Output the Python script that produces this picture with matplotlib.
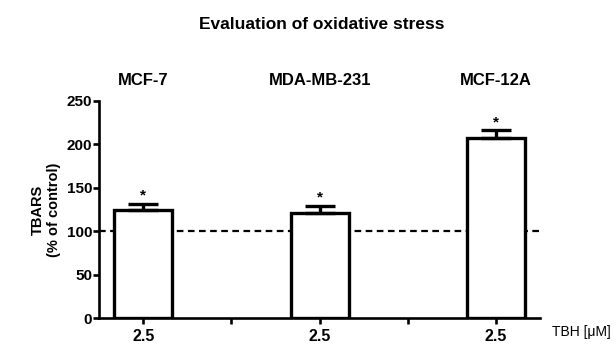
import matplotlib
matplotlib.use("Agg")
import matplotlib.pyplot as plt

plt.rcParams['font.family'] = ['Liberation Sans', 'DejaVu Sans']

# TBARS levels after TBH treatment, % of untreated control
cell_lines = ['MCF-7', 'MDA-MB-231', 'MCF-12A']
dose_labels = ['2.5', '2.5', '2.5']
tbars_mean = [124, 121, 207]
tbars_sem = [7, 8, 9]
control_level = 100

bar_x = [1, 3, 5]
sep_x = [2, 4]

fig = plt.figure(figsize=(6.16, 3.45), dpi=100)
ax = fig.add_axes([0.161, 0.078, 0.716, 0.630])

# control reference line, drawn under the bars
ax.axhline(control_level, color='black', lw=1.6, dashes=(3, 2), zorder=1)

ax.bar(bar_x, tbars_mean, width=0.66, color='white', edgecolor='black',
       linewidth=2.4, zorder=2)
ax.errorbar(bar_x, tbars_mean, yerr=[[0] * 3, tbars_sem], fmt='none',
            ecolor='black', elinewidth=2.4, capsize=11, capthick=2.4, zorder=3)

for x, m, e in zip(bar_x, tbars_mean, tbars_sem):
    ax.text(x, m + e + 1.5, '*', ha='center', va='bottom', fontsize=11,
            fontweight='bold')

for x, name in zip(bar_x, cell_lines):
    ax.text(x, 1.095, name, transform=ax.get_xaxis_transform(), ha='center',
            va='center', fontsize=12, fontweight='bold')

ax.set_xlim(0.5, 5.5)
ax.set_ylim(0, 250)
ax.set_yticks([0, 50, 100, 150, 200, 250])
ax.set_xticks(bar_x + sep_x)
ax.set_xticklabels(dose_labels + ['', ''])

for side in ['top', 'right']:
    ax.spines[side].set_visible(False)
for side in ['left', 'bottom']:
    ax.spines[side].set_linewidth(1.9)

ax.tick_params(axis='both', direction='out', length=4, width=1.9)
ax.tick_params(axis='y', labelsize=11, pad=1)
ax.tick_params(axis='x', labelsize=11.5, pad=4)
for lbl in ax.get_xticklabels() + ax.get_yticklabels():
    lbl.set_fontweight('bold')

fig.text(0.074, 0.391, 'TBARS\n(% of control)', rotation=90, ha='center',
         va='center', fontsize=10.5, fontweight='bold', multialignment='center')
fig.text(0.523, 0.928, 'Evaluation of oxidative stress', ha='center',
         va='center', fontsize=12.5, fontweight='bold')
fig.text(0.896, 0.038, 'TBH [\u03bcM]', ha='left', va='center', fontsize=10)

fig.savefig('out.png', dpi=100, facecolor='white')
